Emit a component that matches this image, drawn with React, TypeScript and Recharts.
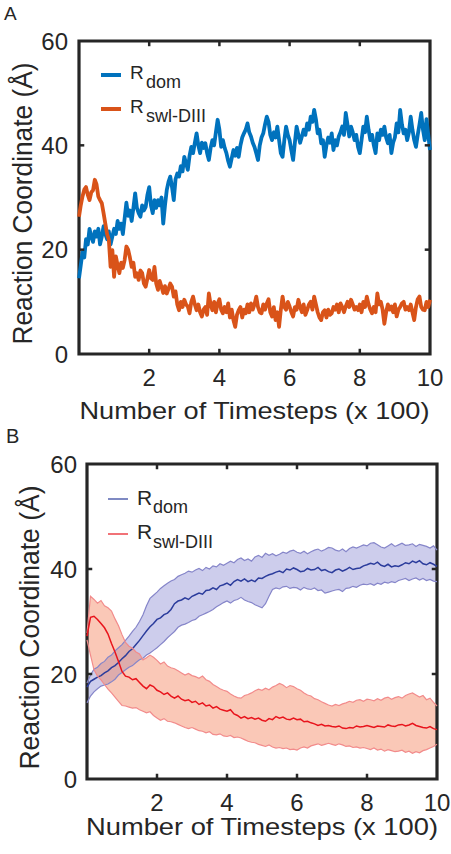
import React from 'react';
import {
  ComposedChart,
  Line,
  Area,
  XAxis,
  YAxis,
  ReferenceArea,
  ReferenceLine,
  Legend,
} from 'recharts';

const FONT = '"Liberation Sans", Arial, Helvetica, sans-serif';
const INK = '#262626';

const xTicks = [2, 4, 6, 8, 10];
const yTicks = [0, 20, 40, 60];
const innerXTicks = [2, 4, 6, 8];
const innerYTicks = [20, 40];

const xTitle = 'Number of Timesteps (x 100)';
const yTitle = 'Reaction Coordinate (Å)';
const legendSubs = ['dom', 'swl-DIII'];

// Panel A: one trajectory, read every 0.05 (x 100 timesteps)
const rDomA = [
  14.5, 17.0, 19.5, 18.5, 22.0, 21.0, 24.0, 22.5, 21.5, 23.5,
  22.5, 24.0, 21.0, 22.5, 24.5, 23.0, 22.0, 23.5, 21.0, 22.5,
  24.0, 23.0, 25.5, 24.0, 25.0, 23.0, 26.0, 29.0, 26.5, 27.5,
  25.5, 28.0, 30.8, 28.0, 27.0, 26.3, 28.5, 27.5, 28.2, 30.5,
  32.0, 28.5, 27.0, 29.5, 28.0, 29.5, 28.5, 30.0, 25.0, 28.5,
  31.4, 33.0, 34.0, 32.0, 29.5, 33.5, 34.6, 34.0, 36.0, 35.0,
  37.8, 36.5, 35.3, 38.0, 39.7, 38.5, 40.5, 42.3, 40.0, 38.5,
  40.5, 39.5, 40.4, 38.5, 37.2, 39.5, 41.0, 40.0, 42.5, 44.9,
  43.0, 39.7, 41.0, 39.5, 38.5, 37.0, 35.9, 37.5, 39.1, 38.0,
  39.5, 37.8, 40.0, 41.5, 42.3, 43.0, 44.2, 42.5, 41.7, 40.5,
  39.7, 38.5, 37.2, 40.0, 41.5, 42.3, 44.0, 45.5, 44.5, 42.0,
  41.0, 42.5, 41.5, 43.6, 41.0, 38.5, 37.8, 41.0, 43.6, 42.0,
  41.0, 39.0, 37.2, 40.5, 43.6, 42.0, 40.5, 41.7, 43.0, 42.0,
  44.2, 43.0, 45.5, 44.5, 46.8, 45.0, 42.3, 43.0, 40.4, 41.0,
  37.8, 40.0, 41.5, 40.5, 42.3, 39.1, 41.0, 40.0, 41.7, 42.5,
  43.6, 42.0, 46.2, 44.0, 41.7, 43.6, 42.5, 41.0, 42.0, 39.7,
  38.5, 41.0, 43.6, 42.5, 45.5, 43.0, 41.0, 42.0, 40.0, 38.5,
  42.3, 41.0, 43.0, 42.0, 43.6, 41.5, 40.4, 42.0, 38.5, 40.5,
  41.5, 44.2, 42.5, 46.8, 44.0, 42.3, 43.0, 41.0, 42.5, 45.5,
  43.0, 41.0, 39.7, 42.0, 44.0, 46.2, 43.0, 41.0, 45.0, 42.0,
  39.1,
];

const rSwlA = [
  26.3, 28.5, 30.2, 31.5, 32.0, 30.5, 29.5, 31.0, 31.4, 33.4,
  32.5, 30.2, 29.5, 28.9, 27.0, 25.0, 23.0, 21.9, 16.7, 19.9,
  14.8, 18.7, 17.0, 15.5, 17.5, 16.5, 18.0, 20.6, 20.0, 18.5,
  16.7, 17.5, 14.8, 15.5, 14.2, 16.0, 15.5, 13.5, 12.9, 14.5,
  16.1, 14.5, 14.2, 16.7, 13.5, 12.3, 14.0, 12.9, 11.7, 13.0,
  11.6, 12.5, 13.5, 12.9, 11.0, 12.0, 9.5, 8.4, 10.0, 9.0,
  10.4, 9.5, 9.1, 7.8, 10.0, 11.0, 9.5, 8.4, 9.5, 8.0,
  7.2, 8.5, 9.0, 7.5, 11.6, 9.5, 8.4, 10.0, 8.0, 9.7,
  10.5, 8.5, 7.8, 9.0, 8.0, 9.7, 7.0, 8.5, 6.5, 5.2,
  7.5, 8.4, 9.0, 7.0, 8.5, 7.8, 9.5, 8.0, 9.7, 8.5,
  9.5, 11.0, 9.0, 8.0, 7.8, 9.5, 8.5, 9.7, 10.5, 8.0,
  7.2, 9.0, 6.5, 8.0, 5.2, 8.5, 11.0, 9.0, 8.5, 10.0,
  9.1, 8.0, 7.2, 9.0, 8.5, 10.4, 9.0, 8.0, 9.5, 7.5,
  8.4, 9.5, 10.0, 8.5, 11.0, 9.5, 8.0, 7.0, 6.5, 8.0,
  8.4, 7.0, 8.5, 7.5, 7.8, 9.0, 8.5, 9.5, 8.0, 9.7,
  9.0, 8.0, 9.1, 10.0, 9.0, 10.4, 9.5, 8.5, 9.0, 8.4,
  9.5, 8.0, 10.0, 9.0, 11.0, 9.5, 8.5, 7.8, 9.0, 8.0,
  11.6, 9.5, 10.0, 8.5, 5.8, 8.0, 9.5, 8.5, 9.1, 8.0,
  9.5, 7.2, 8.5, 9.0, 9.7, 10.0, 8.5, 9.0, 8.4, 9.5,
  8.0, 6.5, 9.0, 10.5, 11.0, 9.0, 8.5, 8.4, 10.0, 9.0,
  10.4,
];

// Panel B: mean with band edges, read every 0.1 (x 100 timesteps)
const rDomMeanB = [
  17.5, 18.6, 19.0, 19.4, 19.7, 20.2, 20.6, 21.2, 21.6, 22.2,
  22.9, 23.5, 24.3, 24.8, 25.6, 26.4, 27.3, 28.2, 29.0, 29.6,
  30.4, 30.7, 31.3, 31.6, 32.3, 33.4, 33.9, 34.1, 34.5, 34.2,
  34.8, 35.1, 35.4, 35.2, 35.9, 36.0, 36.4, 36.1, 36.8, 37.0,
  37.3, 36.9, 37.6, 38.0, 37.7, 38.1, 37.6, 37.9, 37.6, 38.3,
  38.2, 38.6, 38.9, 39.1, 39.4, 39.6, 39.3, 40.0, 39.8, 40.2,
  39.9, 39.5, 39.6, 40.1, 39.8, 39.9, 40.3, 39.7, 39.9, 39.5,
  39.3, 39.8, 40.0, 39.6, 39.9, 40.3, 39.9, 40.1, 40.2, 40.6,
  40.8, 41.1, 40.9, 41.3, 40.7, 40.5, 40.9, 40.4, 40.6, 40.5,
  40.8, 41.2, 41.0, 41.5, 41.2, 41.6, 41.0, 40.8, 41.2, 40.9,
  40.5,
];

const rDomHiB = [
  18.3, 19.8, 20.9, 21.3, 22.0, 22.4, 23.2, 23.6, 24.4, 25.0,
  25.6, 26.4, 27.2, 28.1, 28.9, 30.0, 31.3, 33.0, 34.4, 35.0,
  35.6, 36.3, 36.8, 37.3, 37.7, 38.0, 38.6, 38.9, 39.2, 39.6,
  39.4, 39.8, 40.1, 39.7, 40.3, 40.0, 40.6, 40.4, 41.0, 40.7,
  41.1, 41.5, 41.2, 41.8, 42.1, 41.6, 41.9, 41.5, 42.3, 42.6,
  42.2, 43.0, 42.6, 42.9, 42.5, 42.8, 43.2, 43.0, 43.4, 43.6,
  43.2, 43.0, 43.4, 42.9, 43.3, 43.6, 43.8, 43.4, 43.7, 44.1,
  44.0, 43.6, 43.4, 43.8, 43.3, 43.9, 44.2, 44.0, 44.3, 44.6,
  44.4, 44.9, 45.0, 44.6, 44.2, 44.0, 44.4, 44.8, 44.3, 44.6,
  44.9, 44.5, 44.6, 44.8, 44.3, 44.7, 44.5, 44.3, 44.0, 44.4,
  43.6,
];

const rDomLoB = [
  14.5, 15.8, 16.6, 17.2, 17.7, 17.9, 18.1, 18.5, 19.0, 19.8,
  20.3, 20.8, 21.3, 21.6, 22.2, 22.7, 23.0, 23.6, 24.0, 24.5,
  25.0, 25.6, 26.2, 26.9, 27.5, 28.1, 28.9, 29.3, 29.5, 29.8,
  30.2, 30.4, 31.0, 31.3, 31.6, 31.9, 32.3, 32.8, 33.2, 33.6,
  33.9, 33.5, 34.0, 34.2, 34.6, 34.1, 33.8, 33.6, 33.2, 32.9,
  32.6, 33.4, 34.8, 36.1, 36.4, 36.2, 36.6, 36.7, 36.3, 36.5,
  36.4, 36.0, 36.5, 36.2, 36.1, 36.4, 35.9, 36.0, 35.4, 35.6,
  35.8, 36.0, 36.1, 35.7, 36.3, 36.4, 36.7, 36.5, 36.9, 37.1,
  37.0, 37.2, 36.9, 37.3, 37.1, 37.5, 37.3, 37.6, 37.4, 37.8,
  38.0, 38.2, 37.8, 38.1, 38.3, 37.9, 38.2, 37.8, 38.0, 37.7,
  37.6,
];

const rSwlMeanB = [
  27.2, 30.8, 31.0, 30.4, 29.6, 28.8, 27.6, 25.8, 24.2, 22.4,
  20.5, 19.6, 19.4, 18.9, 19.1, 18.4, 17.7, 17.2, 17.9, 17.6,
  16.9, 16.6, 16.1, 16.4, 15.8, 15.4, 15.8, 15.2, 14.9, 15.1,
  14.6, 14.8, 14.2, 14.5, 13.9, 14.1, 13.5, 13.8, 13.3, 13.1,
  12.9, 13.2, 12.4, 12.1, 11.6, 11.9, 11.5, 11.7, 11.4, 11.6,
  11.2, 11.0, 11.5, 11.3, 11.9, 11.6, 11.8, 11.4, 11.3, 11.6,
  11.3, 11.4, 10.9, 11.0, 10.7, 10.5, 10.2, 10.4, 10.1, 10.2,
  10.0, 9.9, 10.1, 9.7, 9.6, 9.8, 9.7, 10.1, 9.9, 10.0,
  10.2, 10.0, 9.8, 10.1, 10.0, 9.9, 10.3, 10.1, 10.0, 10.3,
  10.4, 10.1, 10.3, 10.6, 10.2, 10.0, 9.8, 9.7, 10.0, 9.6,
  9.4,
];

const rSwlHiB = [
  27.8, 34.8, 34.2, 33.5, 34.0, 33.0, 32.6, 32.0, 30.5, 29.2,
  27.5, 26.0, 25.3, 24.9, 24.2, 23.8, 22.7, 23.1, 23.6, 23.2,
  22.6, 21.9, 22.3, 21.5, 21.2, 21.0, 20.6, 20.2, 19.8, 20.1,
  19.7, 19.5, 19.2, 19.6, 18.9, 18.6, 18.0, 17.6, 17.2, 16.9,
  16.7, 16.2, 15.8, 15.5, 15.4, 15.9, 16.1, 16.4, 16.8, 17.1,
  16.9, 17.3, 17.0, 17.5, 17.8, 18.2, 17.9, 17.4, 17.8, 17.6,
  17.2, 16.9, 16.4, 16.0, 15.8, 15.3, 15.1, 14.7, 14.4, 14.1,
  13.9, 14.2, 14.0, 14.3, 14.5, 14.8, 14.6, 15.0, 15.1, 14.8,
  15.2, 15.1, 14.9, 15.3, 15.0, 15.4, 15.6, 15.2, 15.5, 15.7,
  15.4, 15.9, 16.2, 16.4, 16.0, 15.6, 15.9, 15.1, 15.4, 14.6,
  13.9,
];

const rSwlLoB = [
  26.5, 23.6, 20.8, 19.6, 18.9, 18.0, 17.1, 16.4, 15.6, 14.8,
  14.0, 13.9, 13.7, 13.5, 13.6, 13.2, 12.9, 12.6, 12.8, 12.1,
  11.6, 11.2, 11.5, 11.0, 10.9, 10.7, 10.4, 10.1, 9.8, 9.6,
  9.8, 9.5, 9.2, 9.1, 8.8, 9.0, 8.5, 8.4, 8.6, 8.2,
  8.1, 8.3, 7.9, 8.0, 7.8, 7.5, 7.2, 7.0, 6.9, 6.6,
  6.4, 6.2, 6.5, 6.1, 5.9, 6.0, 5.8, 5.9, 5.6, 5.7,
  5.5, 5.9, 6.1, 5.9, 6.3, 6.5, 6.7, 6.4, 6.6, 6.8,
  6.6, 6.4, 6.7, 6.5, 6.2, 6.3, 6.0, 6.1, 5.9, 6.0,
  5.8, 5.6, 5.9, 5.5, 5.7, 5.3, 5.6, 5.4, 5.2, 5.3,
  5.5, 5.1, 5.3, 4.9, 5.2, 5.0, 5.4, 5.6, 5.9, 6.2,
  6.6,
];

const dataA = rDomA.map((v, i) => ({
  x: +(i * 0.05).toFixed(2),
  dom: v,
  swl: rSwlA[i],
}));

const dataB = rDomMeanB.map((v, i) => ({
  x: +(i * 0.1).toFixed(1),
  domMean: v,
  domHi: rDomHiB[i],
  domLo: rDomLoB[i],
  domBand: [rDomLoB[i], rDomHiB[i]],
  swlMean: rSwlMeanB[i],
  swlHi: rSwlHiB[i],
  swlLo: rSwlLoB[i],
  swlBand: [rSwlLoB[i], rSwlHiB[i]],
}));

const tickStyle = { fill: INK, fontSize: 24, fontFamily: FONT };

// legend with a subscripted "R", laid out like the MATLAB figure
const makeLegend =
  (cfg: {
    x1: number;
    x2: number;
    lineY: number[];
    textX: number;
    subX: number;
    rBase: number[];
    subBase: number[];
    rSize: number;
    subSize: number;
    width: number;
  }) =>
  (props: any) => {
    const items = (props.payload || []).filter((p: any) => p.type !== 'none');
    return (
      <svg width={300} height={140} style={{ overflow: 'visible' }}>
        {items.map((p: any, i: number) => (
          <g key={i}>
            <line
              x1={cfg.x1}
              x2={cfg.x2}
              y1={cfg.lineY[i]}
              y2={cfg.lineY[i]}
              stroke={p.color}
              strokeWidth={cfg.width}
            />
            <text x={cfg.textX} y={cfg.rBase[i]} fill={INK} fontFamily={FONT} fontSize={cfg.rSize}>
              R
            </text>
            <text x={cfg.subX} y={cfg.subBase[i]} fill={INK} fontFamily={FONT} fontSize={cfg.subSize}>
              {legendSubs[i]}
            </text>
          </g>
        ))}
      </svg>
    );
  };

const legendA = makeLegend({
  x1: 101, x2: 121, lineY: [75, 109], textX: 130, subX: 146,
  rBase: [79, 113], subBase: [88, 122], rSize: 19, subSize: 18, width: 4,
});

const legendB = makeLegend({
  x1: 108, x2: 128, lineY: [79, 114], textX: 137, subX: 153,
  rBase: [85, 119], subBase: [93, 128], rSize: 21, subSize: 18, width: 1.2,
});

const xTitleAt = (dy: number, len: number) => (props: any) => {
  const vb = props.viewBox;
  return (
    <text
      x={vb.x + vb.width / 2}
      y={vb.y + dy}
      textAnchor="middle"
      fill={INK}
      fontFamily={FONT}
      fontSize={24}
      textLength={len}
      lengthAdjust="spacingAndGlyphs"
    >
      {xTitle}
    </text>
  );
};

const yTitleAt = (bx: number, len: number) => (props: any) => {
  const vb = props.viewBox;
  const cy = vb.y + vb.height / 2 + 6;
  return (
    <text
      x={bx}
      y={cy}
      transform={`rotate(-90, ${bx}, ${cy})`}
      textAnchor="middle"
      fill={INK}
      fontFamily={FONT}
      fontSize={27}
      textLength={len}
      lengthAdjust="spacingAndGlyphs"
    >
      {yTitle}
    </text>
  );
};

const frame = () => [
  <ReferenceArea key="box" x1={0} x2={10} y1={0} y2={60} fill="none" fillOpacity={0} stroke={INK} strokeWidth={3.2} />,
  ...innerXTicks.map((t) => (
    <ReferenceLine key={'xb' + t} segment={[{ x: t, y: 0 }, { x: t, y: 1 }]} stroke={INK} strokeWidth={2.5} />
  )),
  ...innerXTicks.map((t) => (
    <ReferenceLine key={'xt' + t} segment={[{ x: t, y: 60 }, { x: t, y: 59 }]} stroke={INK} strokeWidth={2.5} />
  )),
  ...innerYTicks.map((t) => (
    <ReferenceLine key={'yl' + t} segment={[{ x: 0, y: t }, { x: 0.15, y: t }]} stroke={INK} strokeWidth={2.5} />
  )),
  ...innerYTicks.map((t) => (
    <ReferenceLine key={'yr' + t} segment={[{ x: 10, y: t }, { x: 9.85, y: t }]} stroke={INK} strokeWidth={2.5} />
  )),
];

const PanelA = () => (
  <ComposedChart width={451} height={430} data={dataA} margin={{ top: 41, right: 21, bottom: 0, left: 0 }}>
    <XAxis
      dataKey="x"
      type="number"
      domain={[0, 10]}
      ticks={xTicks}
      height={76}
      axisLine={false}
      tickLine={false}
      tickSize={0}
      tickMargin={15}
      tick={tickStyle}
      label={xTitleAt(65, 350)}
    />
    <YAxis
      type="number"
      domain={[0, 60]}
      ticks={yTicks}
      width={79}
      axisLine={false}
      tickLine={false}
      tickSize={0}
      tickMargin={11}
      tick={tickStyle}
      label={yTitleAt(32, 282)}
    />
    <Line dataKey="dom" name="R dom" stroke="#0072BD" strokeWidth={3.8} dot={false} isAnimationActive={false} strokeLinejoin="round" />
    <Line dataKey="swl" name="R swl-DIII" stroke="#D95319" strokeWidth={3.8} dot={false} isAnimationActive={false} strokeLinejoin="round" />
    {frame()}
    <Legend
      layout="horizontal"
      verticalAlign="middle"
      align="center"
      content={legendA}
      wrapperStyle={{ left: 0, top: 0, width: 300, height: 140 }}
    />
  </ComposedChart>
);

const PanelB = () => (
  <ComposedChart width={451} height={434} data={dataB} margin={{ top: 44, right: 14, bottom: 0, left: 0 }}>
    <XAxis
      dataKey="x"
      type="number"
      domain={[0, 10]}
      ticks={xTicks}
      height={75}
      axisLine={false}
      tickLine={false}
      tickSize={0}
      tickMargin={15}
      tick={tickStyle}
      label={xTitleAt(56, 352)}
    />
    <YAxis
      type="number"
      domain={[0, 60]}
      ticks={yTicks}
      width={87}
      axisLine={false}
      tickLine={false}
      tickSize={0}
      tickMargin={10}
      tick={tickStyle}
      label={yTitleAt(39, 284)}
    />
    <Area dataKey="domBand" stroke="none" fill="#3939b5" fillOpacity={0.25} isAnimationActive={false} legendType="none" />
    <Line dataKey="domHi" stroke="#8585c9" strokeWidth={1.2} dot={false} isAnimationActive={false} legendType="none" />
    <Line dataKey="domLo" stroke="#8585c9" strokeWidth={1.2} dot={false} isAnimationActive={false} legendType="none" />
    <Line dataKey="domMean" name="R dom" stroke="#2b3c9c" strokeWidth={1.5} dot={false} isAnimationActive={false} />
    <Area dataKey="swlBand" stroke="none" fill="#f4845f" fillOpacity={0.45} isAnimationActive={false} legendType="none" />
    <Line dataKey="swlHi" stroke="#f28b8b" strokeWidth={1.2} dot={false} isAnimationActive={false} legendType="none" />
    <Line dataKey="swlLo" stroke="#f28b8b" strokeWidth={1.2} dot={false} isAnimationActive={false} legendType="none" />
    <Line dataKey="swlMean" name="R swl-DIII" stroke="#e8141c" strokeWidth={1.5} dot={false} isAnimationActive={false} />
    {frame()}
    <Legend
      layout="horizontal"
      verticalAlign="middle"
      align="center"
      content={legendB}
      wrapperStyle={{ left: 0, top: 0, width: 300, height: 140 }}
    />
  </ComposedChart>
);

export default function App() {
  return (
    <div style={{ position: 'absolute', left: 0, top: 0, width: 451, height: 854, background: '#fff' }}>
      <div style={{ position: 'absolute', left: 0, top: 0 }}>
        <PanelA />
      </div>
      <div style={{ position: 'absolute', left: 0, top: 420 }}>
        <PanelB />
      </div>
      <svg
        width={451}
        height={854}
        style={{ position: 'absolute', left: 0, top: 0, pointerEvents: 'none' }}
      >
        <text x={4} y={20} fill={INK} fontFamily={FONT} fontSize={19}>A</text>
        <text x={6} y={443} fill={INK} fontFamily={FONT} fontSize={20}>B</text>
      </svg>
    </div>
  );
}
